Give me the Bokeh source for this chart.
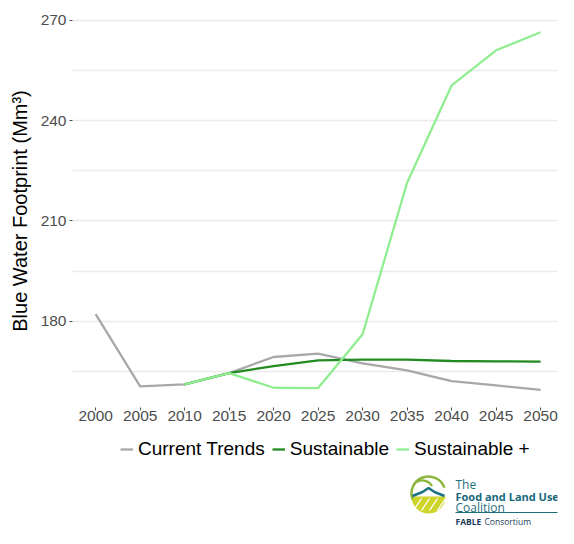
from bokeh.plotting import figure
from bokeh.models import Range1d, FixedTicker, Legend, LegendItem
from bokeh.layouts import column
from bokeh.embed import file_html
from bokeh.resources import INLINE
from bokeh.core.properties import value
import math

# ---------------- data ----------------
years = [2000, 2005, 2010, 2015, 2020, 2025, 2030, 2035, 2040, 2045, 2050]
current_trends = [182.1, 160.5, 161.1, 164.5, 169.3, 170.3, 167.4, 165.3, 162.1, 160.8, 159.5]

scen_years = [2010, 2015, 2020, 2025, 2030, 2035, 2040, 2045, 2050]
sustainable = [161.1, 164.5, 166.6, 168.3, 168.5, 168.5, 168.1, 168.0, 167.9]
sustainable_plus = [161.1, 164.5, 160.1, 160.0, 176.1, 221.4, 250.5, 261.0, 266.4]

x_ticks = [2000, 2005, 2010, 2015, 2020, 2025, 2030, 2035, 2040, 2045, 2050]
y_ticks = [180, 210, 240, 270]
y_minor = [165, 195, 225, 255]

series_names = ["Current Trends", "Sustainable", "Sustainable +"]
series_colors = ["#A8A8A8", "#228B22", "#90EE90"]

FONT = "Liberation Sans"
W = 558
LEFT = 72

# ---------------- main chart ----------------
p = figure(width=W, height=433, output_backend="svg", toolbar_location=None,
           x_range=Range1d(1997.4, 2051.9), y_range=Range1d(154.2, 271.7),
           min_border_left=LEFT, min_border_right=1, min_border_top=14, min_border_bottom=26)
p.outline_line_color = None
p.background_fill_color = "white"
p.border_fill_color = "white"

r1 = p.line(years, current_trends, line_color=series_colors[0], line_width=2.3)
r2 = p.line(scen_years, sustainable, line_color=series_colors[1], line_width=2.3)
r3 = p.line(scen_years, sustainable_plus, line_color=series_colors[2], line_width=2.3)

p.xgrid.visible = False
p.ygrid.ticker = FixedTicker(ticks=y_ticks, minor_ticks=y_minor)
p.ygrid.grid_line_color = "#EBEBEB"
p.ygrid.grid_line_width = 1.3
p.ygrid.minor_grid_line_color = "#EBEBEB"
p.ygrid.minor_grid_line_width = 1.3

p.xaxis.ticker = FixedTicker(ticks=x_ticks)
p.yaxis.ticker = FixedTicker(ticks=y_ticks, minor_ticks=y_minor)
for ax in (p.xaxis[0], p.yaxis[0]):
    ax.axis_line_color = None
    ax.major_tick_in = 0
    ax.major_tick_out = 3
    ax.major_tick_line_color = "#4D4D4D"
    ax.major_tick_line_width = 1
    ax.minor_tick_line_color = None
    ax.major_label_text_font = FONT
    ax.major_label_text_font_size = "15.5px"
    ax.major_label_text_color = "#4D4D4D"
p.yaxis.major_label_standoff = 2
p.xaxis.major_label_standoff = 0

p.yaxis.axis_label = "Blue Water Footprint (Mm³)"
p.yaxis.axis_label_text_font = FONT
p.yaxis.axis_label_text_font_size = "20px"
p.yaxis.axis_label_text_font_style = "normal"
p.yaxis.axis_label_text_color = "black"
p.yaxis.axis_label_standoff = 7

# ---------------- legend + logo strip ----------------
# frame aligned with the chart above; x data units here are page pixels
q = figure(width=W, height=95, output_backend="svg", toolbar_location=None,
           x_range=Range1d(LEFT, W - 1), y_range=Range1d(0, 95),
           x_axis_type=None, y_axis_type=None,
           min_border_left=LEFT, min_border_right=1, min_border_top=0, min_border_bottom=0)
q.outline_line_color = None
q.xgrid.visible = False
q.ygrid.visible = False

# legend keys: same series, lying outside this strip's ranges (so only the key shows)
k1 = q.line(years, current_trends, line_color=series_colors[0], line_width=2.3)
k2 = q.line(scen_years, sustainable, line_color=series_colors[1], line_width=2.3)
k3 = q.line(scen_years, sustainable_plus, line_color=series_colors[2], line_width=2.3)
legend = Legend(items=[LegendItem(label=series_names[0], renderers=[k1]),
                       LegendItem(label=series_names[1], renderers=[k2]),
                       LegendItem(label=series_names[2], renderers=[k3])],
                orientation="horizontal", location=(48, 68))
legend.label_text_font = FONT
legend.label_text_font_size = "19px"
legend.label_text_color = "black"
legend.glyph_width = 13
legend.glyph_height = 20
legend.label_standoff = 5
legend.spacing = 7
legend.padding = 0
legend.margin = 0
legend.border_line_color = None
legend.background_fill_alpha = 0
q.add_layout(legend)

# logo
cx, cy, rr = 428, 35, 18
q.wedge(x=[cx], y=[cy - 3], radius=rr - 1, start_angle=math.pi, end_angle=2 * math.pi,
        fill_color="#CDD42A", line_color=None)
for k in range(4):
    q.line(x=[cx - 15 + 8 * k, cx - 7 + 8 * k], y=[cy - 17, cy - 5], line_color="white", line_width=1.3)
q.arc(x=[cx], y=[cy], radius=rr - 1, start_angle=math.radians(20), end_angle=math.radians(200),
      line_color="#8DB63C", line_width=2.5)
q.arc(x=[cx - 6], y=[cy + 2], radius=11, start_angle=math.radians(30), end_angle=math.radians(120),
      line_color="#8DB63C", line_width=2.2)
q.line(x=[cx - 16, cx - 6, cx, cx + 6, cx + 16], y=[cy - 2.5, cy + 1.5, cy + 5.5, cy + 1.5, cy - 2.5],
       line_color="#1E7386", line_width=2.6)

tx = 455
q.text(x=[tx], y=[44], text=["The"], text_font=value("Open Sans"), text_font_size="12px",
       text_color="#1F6E7C", text_baseline="alphabetic")
q.text(x=[tx], y=[32], text=["Food and Land Use"], text_font=value("Open Sans"),
       text_font_size="11px", text_font_style="bold", text_color="#17687A", text_baseline="alphabetic")
q.text(x=[tx], y=[21], text=["Coalition"], text_font=value("Open Sans"), text_font_size="12px",
       text_color="#1F6E7C", text_baseline="alphabetic")
q.line(x=[tx, W], y=[16, 16], line_color="#1F6E7C", line_width=1)
q.text(x=[tx], y=[7], text=["FABLE"], text_font=value("Open Sans"), text_font_size="8.5px",
       text_font_style="bold", text_color="#1B3B5A", text_baseline="alphabetic")
q.text(x=[tx + 29], y=[7], text=["Consortium"], text_font=value("Open Sans"), text_font_size="8.5px",
       text_color="#1B3B5A", text_baseline="alphabetic")

layout = column(p, q, spacing=0)
open("out.html", "w").write(file_html(layout, INLINE))
